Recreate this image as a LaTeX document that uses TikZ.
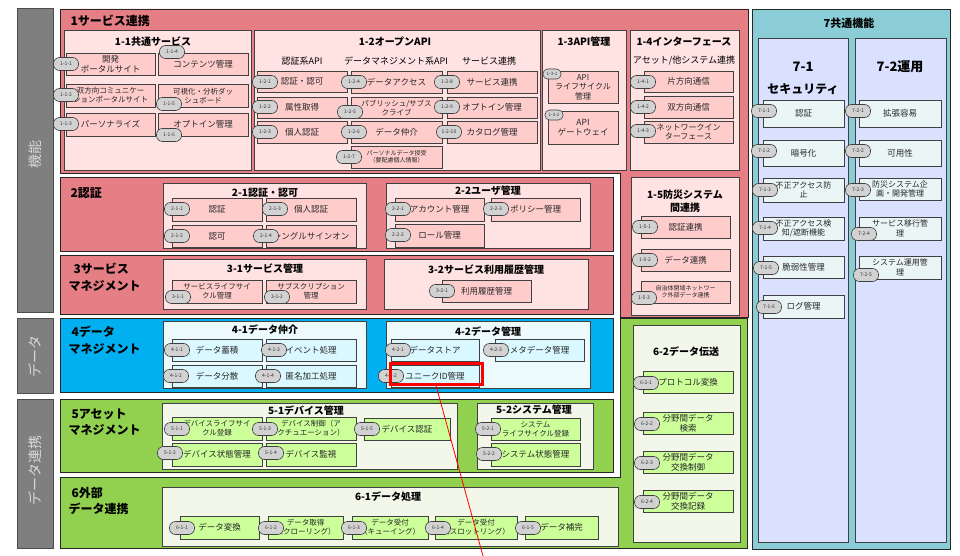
\documentclass[tikz,border=0pt]{standalone}
\usepackage{fontspec}
\usetikzlibrary{shadows}
\setmainfont{Noto Sans CJK JP}
\newcommand{\fsz}[2]{\fontsize{#1}{#2}\selectfont}
\definecolor{barg}{HTML}{7F7F7F}
\definecolor{bartxt}{HTML}{D9D9D9}
\definecolor{secpink}{HTML}{E67E85}
\definecolor{subpink}{HTML}{FFE2E2}
\definecolor{itpink}{HTML}{FFCCCC}
\definecolor{secblue}{HTML}{00B0F0}
\definecolor{subblue}{HTML}{EDFAFD}
\definecolor{itblue}{HTML}{DAF8FF}
\definecolor{secgreen}{HTML}{92D050}
\definecolor{subgreen}{HTML}{F2F7EA}
\definecolor{itgreen}{HTML}{CCFF99}
\definecolor{secteal}{HTML}{8BCDD6}
\definecolor{sublav}{HTML}{D9E1FF}
\definecolor{itsec}{HTML}{EAF6F6}
\definecolor{badgegray}{HTML}{D2D2D2}
\definecolor{edge}{HTML}{404040}
\newcommand{\rbx}[7]{\node[#2, minimum width={#5-#3}, minimum height={#6-#4}] (#1) at ({(#3+#5)/2},{(#4+#6)/2}) {#7};}
\newcommand{\bdg}[4]{\node[badge] (#1) at (#2,#3) {#4};}
\begin{document}
\begin{tikzpicture}[x=1pt,y=-1pt,
  sec/.style={draw=black!85, line width=0.8pt},
  sub/.style={draw=edge, line width=0.7pt, inner sep=0},
  itm/.style={draw=edge, line width=0.7pt, inner sep=0, align=center, text=black!85, font=\fsz{8.5}{10},
    drop shadow={shadow xshift=1pt, shadow yshift=-1pt, fill=black, opacity=0.45}},
  pit/.style={itm, fill=itpink},
  bit/.style={itm, fill=itblue},
  git/.style={itm, fill=itgreen},
  sit/.style={itm, fill=itsec},
  sm/.style={font=\fsz{7.5}{9}},
  xs/.style={font=\fsz{6}{7.2}},
  badge/.style={draw=black!75, line width=0.6pt, fill=badgegray, rounded corners=6pt, minimum width=25pt, minimum height=13pt, inner sep=0, font=\fsz{5}{5.5}, text=black!80},
  sbadge/.style={badge, minimum width=18pt, minimum height=10pt, rounded corners=4.5pt, font=\fsz{4.5}{5}},
  ttl/.style={font=\bfseries\fsz{12}{16.5}, anchor=west, align=left},
  subttl/.style={font=\bfseries\fsz{10}{13}, align=center},
  subhd/.style={font=\fsz{9}{11}},
  bartext/.style={text=bartxt, font=\fsz{14}{16}, rotate=90}
]
\useasboundingbox (0,0) rectangle (960,556);
\fill[white] (0,0) rectangle (960,556);

% ---------- left gray bars ----------
\fill[barg, draw=black!70] (17,8) rectangle (53,312);
\node[bartext] (t1) at (35,155) {機能};
\fill[barg, draw=black!70] (17,318) rectangle (53,393);
\node[bartext] (t2) at (35,356) {データ};
\fill[barg, draw=black!70] (17,399) rectangle (53,548);
\node[bartext] (t3) at (35,470) {データ連携};

% ---------- section backgrounds ----------
\draw[sec, fill=secpink] (60,9) -- (748,9) -- (748,317) -- (620,317) -- (620,173) -- (60,173) -- cycle;
\draw[sec, fill=secpink] (60,177) rectangle (613,251);
\draw[sec, fill=secpink] (60,255) rectangle (613,314);
\draw[sec, fill=secblue] (60,318) rectangle (613,392);
\draw[sec, fill=secgreen] (60,399) rectangle (613,472);
\draw[sec, fill=secgreen] (620,318) -- (747,318) -- (747,548) -- (60,548) -- (60,477) -- (620,477) -- cycle;
\draw[sec, fill=secteal] (752,9) rectangle (950,549);

% ---------- section titles ----------
\node[ttl] (s1) at (67,21) {1サービス連携};
\node[ttl] (s2) at (67,193) {2認証};
\node[ttl] (s3) at (65,277) {\hspace{5pt}3サービス\\マネジメント};
\node[ttl] (s4) at (65,340) {\hspace{3pt}4データ\\マネジメント};
\node[ttl] (s5) at (65,422) {\hspace{3pt}5アセット\\マネジメント};
\node[ttl] (s6) at (65,501) {\hspace{3pt}6外部\\データ連携};
\node[font=\bfseries\fsz{11}{13}] (s7) at (849,23) {7共通機能};

% ---------- 1-1 ----------
\draw[sub, fill=subpink] (64,30) rectangle (251,170);
\node[subttl] (h11) at (153,42) {1-1共通サービス};
\rbx{i111}{pit}{66}{53}{155}{75}{開発\\ポータルサイト}
\rbx{i114}{pit}{158}{53}{248}{75}{コンテンツ管理}
\rbx{i112}{pit,sm}{66}{84}{155}{107}{双方向コミュニケー\\ションポータルサイト}
\rbx{i115}{pit,sm}{158}{84}{248}{107}{可視化・分析ダッ\\シュボード}
\rbx{i113}{pit}{66}{113}{155}{136}{パーソナライズ}
\rbx{i116}{pit}{158}{113}{248}{136}{オプトイン管理}
\bdg{b111}{66}{64}{1-1-1}
\bdg{b114}{172}{52}{1-1-4}
\bdg{b112}{66}{95}{1-1-2}
\bdg{b115}{169}{104}{1-1-5}
\bdg{b113}{66}{124}{1-1-3}
\bdg{b116}{169}{135}{1-1-6}

% ---------- 1-2 ----------
\draw[sub, fill=subpink] (254,30) rectangle (540,170);
\node[subttl] (h12) at (395,42) {1-2オープンAPI};
\node[subhd] (c1) at (302,61) {認証系API};
\node[subhd] (c2) at (396,61) {データマネジメント系API};
\node[subhd] (c3) at (489,61) {サービス連携};
\rbx{i121}{pit}{257}{71}{347}{92}{認証・認可}
\rbx{i122}{pit}{257}{97}{347}{118}{属性取得}
\rbx{i123}{pit}{257}{121}{347}{143}{個人認証}
\rbx{i124}{pit}{351}{71}{442}{93}{データアクセス}
\rbx{i125}{pit,sm}{351}{97}{442}{118}{パブリッシュ/サブス\\クライブ}
\rbx{i126}{pit}{351}{121}{442}{143}{データ仲介}
\rbx{i127}{pit,xs}{351}{146}{442}{168}{パーソナルデータ授受\\（要配慮個人情報）}
\rbx{i128}{pit}{447}{71}{537}{93}{サービス連携}
\rbx{i129}{pit}{447}{97}{537}{118}{オプトイン管理}
\rbx{i1210}{pit}{447}{121}{537}{143}{カタログ管理}
\bdg{b121}{265}{82}{1-2-1}
\bdg{b122}{265}{107}{1-2-2}
\bdg{b123}{265}{132}{1-2-3}
\bdg{b124}{354}{82}{1-2-4}
\bdg{b125}{350}{112}{1-2-5}
\bdg{b126}{354}{132}{1-2-6}
\bdg{b127}{349}{157}{1-2-7}
\bdg{b128}{447}{82}{1-2-8}
\bdg{b129}{447}{107}{1-2-9}
\bdg{b1210}{449}{132}{1-2-10}

% ---------- 1-3 ----------
\draw[sub, fill=subpink] (542,30) rectangle (626,170);
\node[subttl] (h13) at (584,42) {1-3API管理};
\rbx{i131}{pit,font=\fsz{8}{9.5}}{548}{71}{618}{103}{API\\ライフサイクル\\管理}
\rbx{i132}{pit}{548}{111}{618}{144}{API\\ゲートウェイ}
\node[sbadge] (b131) at (552,74) {1-3-1};
\node[sbadge] (b132) at (554,115) {1-3-2};

% ---------- 1-4 ----------
\draw[sub, fill=subpink] (630,30) rectangle (739,170);
\node[subttl] (h14) at (684,42) {1-4インターフェース};
\node[subhd] (c4) at (684,61) {アセット/他システム連携};
\rbx{i141}{pit}{644}{71}{733}{92}{片方向通信}
\rbx{i142}{pit}{644}{96}{733}{118}{双方向通信}
\rbx{i143}{pit,font=\fsz{8}{9.5}}{644}{121}{733}{143}{ネットワークイン\\ターフェース}
\bdg{b141}{643}{82}{1-4-1}
\bdg{b142}{643}{107}{1-4-2}
\bdg{b143}{643}{131}{1-4-3}

% ---------- 1-5 ----------
\draw[sub, fill=subpink] (631,177) rectangle (739,315);
\node[subttl, font=\bfseries\fsz{10}{12.5}] (h15) at (685,201) {1-5防災システム\\間連携};
\rbx{i151}{pit}{641}{216}{730}{238}{認証連携}
\rbx{i152}{pit}{641}{249}{730}{271}{データ連携}
\rbx{i153}{pit,xs}{641}{281}{730}{303}{自治体閉域ネットワー\\ク外部データ連携}
\bdg{b151}{645}{227}{1-5-1}
\bdg{b152}{645}{260}{1-5-2}
\bdg{b153}{644}{298}{1-5-3}

% ---------- 2-1 ----------
\draw[sub, fill=subpink] (163,183) rectangle (366,248);
\node[subttl] (h21) at (265,193) {2-1認証・認可};
\rbx{i211}{pit}{172}{198}{262}{221}{認証}
\rbx{i212}{pit}{172}{225}{262}{247}{認可}
\rbx{i213}{pit}{266}{198}{356}{221}{個人認証}
\rbx{i214}{pit}{266}{225}{356}{247}{シングルサインオン}
\bdg{b211}{177}{209}{2-1-1}
\bdg{b212}{177}{236}{2-1-2}
\bdg{b213}{275}{209}{2-1-3}
\bdg{b214}{266}{236}{2-1-4}

% ---------- 2-2 ----------
\draw[sub, fill=subpink] (386,183) rectangle (590,248);
\node[subttl] (h22) at (488,191) {2-2ユーザ管理};
\rbx{i221}{pit}{395}{198}{484}{221}{アカウント管理}
\rbx{i223}{pit}{491}{198}{580}{221}{ポリシー管理}
\rbx{i222}{pit}{395}{224}{484}{247}{ロール管理}
\bdg{b221}{398}{209}{2-2-1}
\bdg{b223}{496}{209}{2-2-3}
\bdg{b222}{398}{235}{2-2-2}

% ---------- 3-1 / 3-2 ----------
\draw[sub, fill=subpink] (163,259) rectangle (366,309);
\node[subttl] (h31) at (265,269) {3-1サービス管理};
\rbx{i311}{pit,sm}{172}{280}{262}{303}{サービスライフサイ\\クル管理}
\rbx{i312}{pit,sm}{266}{280}{356}{303}{サブスクリプション\\管理}
\bdg{b311}{178}{297}{3-1-1}
\bdg{b312}{277}{297}{3-1-2}
\draw[sub, fill=subpink] (384,259) rectangle (588,309);
\node[subttl] (h32) at (486,270) {3-2サービス利用履歴管理};
\rbx{i321}{pit}{442}{280}{531}{302}{利用履歴管理}
\bdg{b321}{442}{291}{3-2-1}

% ---------- 4-1 / 4-2 ----------
\draw[sub, fill=subblue] (163,321) rectangle (366,388);
\node[subttl] (h41) at (265,330) {4-1データ仲介};
\rbx{i411}{bit}{172}{339}{262}{361}{データ蓄積}
\rbx{i412}{bit}{172}{365}{262}{387}{データ分散}
\rbx{i413}{bit}{266}{339}{356}{361}{イベント処理}
\rbx{i414}{bit}{266}{365}{356}{387}{匿名加工処理}
\bdg{b411}{177}{350}{4-1-1}
\bdg{b412}{176}{376}{4-1-2}
\bdg{b413}{274}{350}{4-1-3}
\bdg{b414}{268}{376}{4-1-4}
\draw[sub, fill=subblue] (386,321) rectangle (590,388);
\node[subttl] (h42) at (488,332) {4-2データ管理};
\rbx{i421}{bit}{391}{339}{479}{361}{データストア}
\rbx{i423}{bit}{495}{339}{584}{361}{メタデータ管理}
\rbx{i422}{bit}{391}{365}{479}{387}{ユニークID管理}
\bdg{b421}{398}{350}{4-2-1}
\bdg{b423}{496}{350}{4-2-3}
\bdg{b422}{391}{376}{4-2-2}
\node[draw=red, line width=3pt, minimum width=92pt, minimum height=21pt, inner sep=0] (hl) at (436,373.5) {};

% ---------- 5-1 / 5-2 ----------
\draw[sub, fill=subgreen] (162,403) rectangle (457,469);
\node[subttl] (h51) at (306,411) {5-1デバイス管理};
\rbx{i511}{git,sm}{172}{417}{262}{440}{デバイスライフサイ\\クル登録}
\rbx{i512}{git}{172}{443}{262}{466}{デバイス状態管理}
\rbx{i513}{git,sm}{266}{417}{356}{440}{デバイス制御（ア\\クチュエーション）}
\rbx{i514}{git}{266}{443}{356}{466}{デバイス監視}
\rbx{i515}{git}{364}{418}{450}{440}{デバイス認証}
\bdg{b511}{177}{429}{5-1-1}
\bdg{b512}{170}{453}{5-1-2}
\bdg{b513}{265}{429}{5-1-3}
\bdg{b514}{271}{453}{5-1-4}
\bdg{b515}{367}{429}{5-1-5}
\draw[sub, fill=subgreen] (477,403) rectangle (593,469);
\node[subttl] (h52) at (534,410) {5-2システム管理};
\rbx{i521}{git,sm}{491}{418}{580}{440}{システム\\ライフサイクル登録}
\rbx{i522}{git}{491}{443}{580}{466}{システム状態管理}
\bdg{b521}{488}{429}{5-2-1}
\bdg{b522}{489}{454}{5-2-2}

% ---------- 6-1 ----------
\draw[sub, fill=subgreen] (162,487) rectangle (618,546);
\node[subttl] (h61) at (388,497) {6-1データ処理};
\rbx{i611}{git}{180}{516}{259}{539}{データ変換}
\rbx{i612}{git,sm}{268}{516}{343}{539}{データ取得\\（クローリング）}
\rbx{i613}{git,sm}{352}{516}{428}{539}{データ受付\\（キューイング）}
\rbx{i614}{git,sm}{435}{516}{517}{539}{データ受付\\（スロットリング）}
\rbx{i615}{git}{525}{516}{598}{539}{データ補完}
\bdg{b611}{182}{528}{6-1-1}
\bdg{b612}{271}{528}{6-1-2}
\bdg{b613}{354}{528}{6-1-3}
\bdg{b614}{438}{528}{6-1-4}
\bdg{b615}{528}{528}{6-1-5}

% ---------- 6-2 ----------
\draw[sub, fill=subgreen] (633,325) rectangle (740,542);
\node[subttl] (h62) at (686,352) {6-2データ伝送};
\rbx{i621}{git}{643}{371}{733}{393}{プロトコル変換}
\rbx{i622}{git}{643}{412}{733}{434}{分野間データ\\検索}
\rbx{i623}{git}{643}{451}{733}{473}{分野間データ\\交換制御}
\rbx{i624}{git}{643}{490}{733}{512}{分野間データ\\交換記録}
\bdg{b621}{646}{383}{6-2-1}
\bdg{b622}{647}{424}{6-2-2}
\bdg{b623}{647}{463}{6-2-3}
\bdg{b624}{647}{502}{6-2-4}

% ---------- 7 ----------
\draw[sub, fill=sublav] (758,38) rectangle (848,542);
\draw[sub, fill=sublav] (855,38) rectangle (946,542);
\node[font=\bfseries\fsz{13}{15}] (h71a) at (803,67) {7-1};
\node[font=\bfseries\fsz{12}{14}] (h71b) at (803,89) {セキュリティ};
\node[font=\bfseries\fsz{13}{15}] (h72) at (900,67) {7-2運用};
\rbx{i711}{sit}{763}{100}{844}{127}{認証}
\rbx{i712}{sit}{763}{140}{844}{166}{暗号化}
\rbx{i713}{sit,font=\fsz{8}{9.5}}{763}{178}{844}{202}{不正アクセス防\\止}
\rbx{i714}{sit,font=\fsz{8}{9.5}}{763}{217}{844}{240}{不正アクセス検\\知/遮断機能}
\rbx{i715}{sit}{763}{256}{844}{278}{脆弱性管理}
\rbx{i716}{sit}{763}{295}{844}{318}{ログ管理}
\bdg{b711}{764}{111}{7-1-1}
\bdg{b712}{764}{151}{7-1-2}
\bdg{b713}{765}{190}{7-1-3}
\bdg{b714}{765}{228}{7-1-4}
\bdg{b715}{766}{268}{7-1-5}
\bdg{b716}{769}{307}{7-1-6}
\rbx{i721}{sit}{859}{100}{941}{127}{拡張容易}
\rbx{i722}{sit}{859}{140}{941}{166}{可用性}
\rbx{i723}{sit,font=\fsz{8}{9.5}}{859}{178}{941}{200}{防災システム企\\画・開発管理}
\rbx{i724}{sit,font=\fsz{8}{9.5}}{859}{217}{941}{240}{サービス移行管\\理}
\rbx{i725}{sit,font=\fsz{8}{9.5}}{859}{256}{941}{279}{システム運用管\\理}
\bdg{b721}{858}{111}{7-2-1}
\bdg{b722}{858}{151}{7-2-2}
\bdg{b723}{858}{190}{7-2-3}
\bdg{b724}{864}{234}{7-2-4}
\bdg{b725}{866}{275}{7-2-5}

% ---------- red pointer ----------
\coordinate (lineend) at (483,556);
\draw[red, line width=0.8pt] (hl.south) -- (lineend);
\end{tikzpicture}
\end{document}
